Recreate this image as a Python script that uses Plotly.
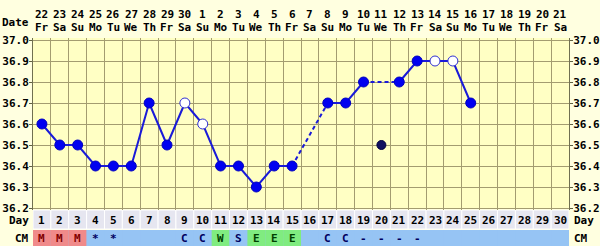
import plotly.graph_objects as go

# ---- data ----
days = list(range(1, 31))
dates = [22, 23, 24, 25, 26, 27, 28, 29, 30] + list(range(1, 22))
weekdays = ["Fr", "Sa", "Su", "Mo", "Tu", "We", "Th"] * 4 + ["Fr", "Sa"]
temps = [36.6, 36.5, 36.5, 36.4, 36.4, 36.4, 36.7, 36.5, 36.7, 36.6,
         36.4, 36.4, 36.3, 36.4, 36.4, None, 36.7, 36.7, 36.8, 36.5,
         36.8, 36.9, 36.9, 36.9, 36.7, None, None, None, None, None]
open_days = [9, 10, 23, 24]
excluded_days = [20]
cm = ["M", "M", "M", "*", "*", "", "", "", "C", "C",
      "W", "S", "E", "E", "E", "", "C", "C", "-", "-",
      "-", "-", "", "", "", "", "", "", "", ""]
ytick_vals = [36.2, 36.3, 36.4, 36.5, 36.6, 36.7, 36.8, 36.9, 37.0]

# ---- styles ----
W, H = 600, 246
ML, MR, MT, MB = 33, 31, 38, 0
PH = H - MT - MB
def py(px):  # pixel y -> paper y
    return (H - MB - px) / PH
def pxx(px):  # pixel x -> paper x
    return (px - ML) / (W - ML - MR)

FONT = "DejaVu Sans Mono"
LINE = "#1a1ad8"
GRID = "#a39c70"
temp_bottom = py(210)

def tfont(color="#000000", size=11):
    return dict(family=FONT, size=size, color=color, weight="bold")

t = {d: v for d, v in zip(days, temps)}
solid_y = [None if d in excluded_days else v for d, v in zip(days, temps)]

# dashed bridges across gaps
dash_x, dash_y = [], []
valid = [d for d in days if t[d] is not None and d not in excluded_days]
for a, b in zip(valid, valid[1:]):
    if b - a > 1:
        dash_x += [a, b, None]
        dash_y += [t[a], t[b], None]

fig = go.Figure()
fig.add_trace(go.Scatter(x=days, y=solid_y, mode="lines",
                         line=dict(color=LINE, width=2), connectgaps=False,
                         hoverinfo="skip", showlegend=False))
fig.add_trace(go.Scatter(x=dash_x, y=dash_y, mode="lines",
                         line=dict(color=LINE, width=2, dash="4px,3px"),
                         hoverinfo="skip", showlegend=False))
fx = [d for d in valid if d not in open_days]
fig.add_trace(go.Scatter(x=fx, y=[t[d] for d in fx], mode="markers",
                         marker=dict(color="#0000f0", size=10,
                                     line=dict(color="#0000c0", width=1)),
                         showlegend=False))
fig.add_trace(go.Scatter(x=open_days, y=[t[d] for d in open_days], mode="markers",
                         marker=dict(color="#ffffff", size=10,
                                     line=dict(color="#3030d0", width=1)),
                         showlegend=False))
fig.add_trace(go.Scatter(x=excluded_days, y=[t[d] for d in excluded_days], mode="markers",
                         marker=dict(color="#101060", size=9,
                                     line=dict(color="#000040", width=1)),
                         showlegend=False))
# dummy trace for right axis
fig.add_trace(go.Scatter(x=[1], y=[36.6], yaxis="y2", mode="markers",
                         marker=dict(opacity=0), hoverinfo="skip", showlegend=False))

shapes = []
annotations = []
shapes.append(dict(type="rect", xref="paper", yref="paper", x0=0, x1=1,
                   y0=0, y1=py(230), fillcolor="#96c4f4", line=dict(width=0),
                   layer="below"))
# Day row and CM row
for d, c in zip(days, cm):
    shapes.append(dict(type="rect", xref="x", yref="paper", x0=d - 0.5, x1=d + 0.5,
                       y0=py(229), y1=temp_bottom, fillcolor="#e6e6f0",
                       line=dict(color="#ffffff", width=1), layer="below"))
    if c == "M":
        fill = "#f08a8a"; tc = "#800000"
    elif c in ("W", "E"):
        fill = "#80ec80"; tc = "#004000"
    else:
        fill = "#96c4f4"; tc = "#000060"
    shapes.append(dict(type="rect", xref="x", yref="paper", x0=d - 0.5, x1=d + 0.5,
                       y0=0, y1=py(230), fillcolor=fill,
                       line=dict(color=fill, width=0), layer="below"))
    annotations.append(dict(x=d, y=py(220), xref="x", yref="paper", text=str(d),
                            xanchor="center", yanchor="middle",
                            showarrow=False, font=tfont()))
    if c:
        annotations.append(dict(x=d, y=py(238), xref="x", yref="paper", text=c,
                                xanchor="center", yanchor="middle",
                                showarrow=False, font=tfont(tc)))

# header
for d, dt, wd in zip(days, dates, weekdays):
    annotations.append(dict(x=d, y=py(15), xref="x", yref="paper", text=str(dt),
                            xanchor="center", yanchor="middle",
                            showarrow=False, font=tfont()))
    annotations.append(dict(x=d, y=py(28), xref="x", yref="paper", text=wd,
                            xanchor="center", yanchor="middle",
                            showarrow=False, font=tfont()))
for txt, yy in (("Date", 22), ("Day", 220), ("CM", 238)):
    annotations.append(dict(x=pxx(31), y=py(yy), xref="paper", yref="paper", text=txt,
                            xanchor="right", yanchor="middle", showarrow=False,
                            font=tfont()))
for txt, yy in (("Day", 220), ("CM", 238)):
    annotations.append(dict(x=pxx(572), y=py(yy), xref="paper", yref="paper", text=txt,
                            xanchor="left", yanchor="middle", showarrow=False,
                            font=tfont()))

yr = [36.2 - 2 / 210, 37.0 + 2 / 210]
tick_text = [f"{v:.1f}" for v in ytick_vals]
axis_common = dict(domain=[temp_bottom, 1], range=yr, tickvals=ytick_vals,
                   ticktext=tick_text, zeroline=False, automargin=False,
                   ticks="outside", ticklen=3, tickcolor="#606040",
                   ticklabelstandoff=-2,
                   tickfont=tfont(), showline=True, linecolor="#707050",
                   linewidth=1, fixedrange=True)
fig.update_layout(
    width=W, height=H, margin=dict(l=ML, r=MR, t=MT, b=MB, pad=0, autoexpand=False),
    paper_bgcolor="#ffffe0", plot_bgcolor="#ffffc4",
    shapes=shapes, annotations=annotations,
    xaxis=dict(range=[0.5, 30.5], showticklabels=False, ticks="",
               tickvals=[d + 0.5 for d in days[:-1]], showgrid=True,
               gridcolor=GRID, gridwidth=1, zeroline=False, automargin=False,
               showline=False, fixedrange=True),
    yaxis=dict(showgrid=True, gridcolor=GRID, gridwidth=1, **axis_common),
    yaxis2=dict(overlaying="y", side="right", showgrid=False, **axis_common),
)
fig.write_html("out.html")
